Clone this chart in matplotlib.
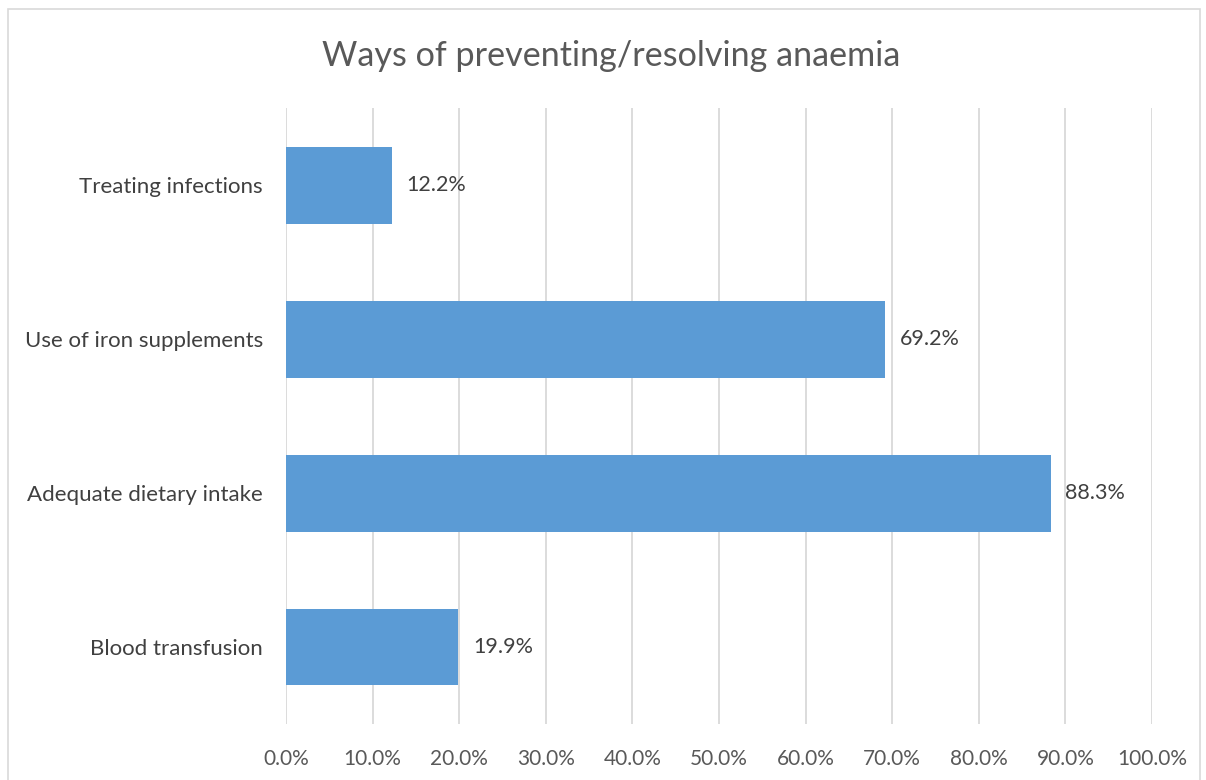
import matplotlib.pyplot as plt
from matplotlib.patches import Rectangle

categories = ["Blood transfusion", "Adequate dietary intake", "Use of iron supplements", "Treating infections"]
values = [19.9, 88.3, 69.2, 12.2]
ticks = [0, 10, 20, 30, 40, 50, 60, 70, 80, 90, 100]

plt.rcParams['font.family'] = ['Lato', 'DejaVu Sans']

fig = plt.figure(figsize=(12.06, 7.8), dpi=100)
ax = fig.add_axes([0.2371, 0.0718, 0.7181, 0.7897])

# chart border like the office export
fig.patches.append(Rectangle((8 / 1206, -0.1), 1192 / 1206, 1.1 - 9 / 780, transform=fig.transFigure,
                             fill=False, edgecolor='#D9D9D9', linewidth=1.2))

y = range(len(categories))
ax.barh(y, values, height=0.5, color='#5B9BD5', zorder=3)
for i, v in enumerate(values):
    ax.text(v + 1.7, i, "{:.1f}%".format(v), va='center', ha='left', fontsize=15.5, color='#404040')

ax.set_xlim(0, 100)
ax.set_ylim(-0.5, 3.5)
ax.set_xticks(ticks)
ax.set_xticklabels(["{:.1f}%".format(t) for t in ticks], fontsize=15, color='#595959')
ax.set_yticks(list(y))
ax.set_yticklabels(categories, fontsize=16, color='#404040')
ax.tick_params(length=0, pad=16.5, axis='y')
ax.tick_params(length=0, pad=18, axis='x')
ax.grid(True, axis='x', color='#D9D9D9', linewidth=1.3, zorder=0)
for s in ax.spines.values():
    s.set_visible(False)

fig.text(0.5066, 0.928, "Ways of preventing/resolving anaemia", ha='center', va='center',
         fontsize=24.6, color='#595959')

fig.savefig("out.png", dpi=100)
